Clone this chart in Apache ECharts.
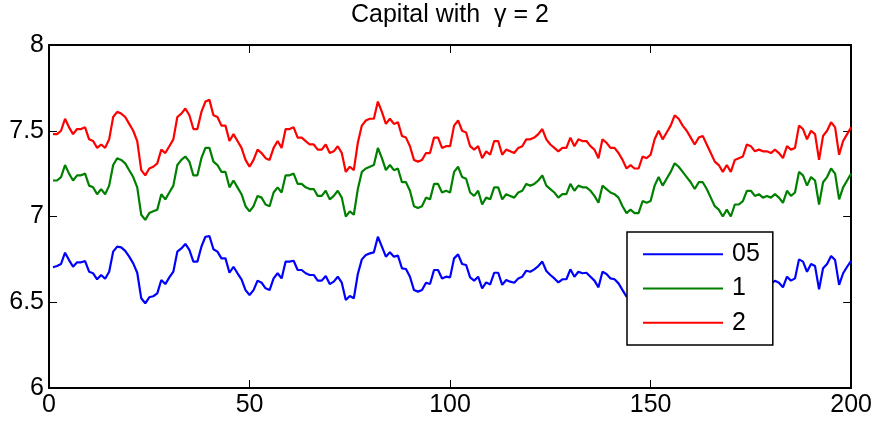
<!DOCTYPE html>
<html>
<head>
<meta charset="utf-8">
<style>
  html, body { margin: 0; padding: 0; background: #fff; }
  #chart { width: 875px; height: 422px; }
</style>
<script src="https://cdn.jsdelivr.net/npm/echarts@6/dist/echarts.min.js"></script>
</head>
<body>
<div id="chart"></div>
<script>
// Capital paths over 200 periods, one per parameter setting
const seriesNames = ['05', '1', '2'];
const seriesColors = ['#0000ff', '#008000', '#ff0000'];

const capital05 = [
  6.704,6.711,6.723,6.789,6.746,6.707,6.733,6.733,6.740,6.678,
  6.669,6.634,6.659,6.637,6.678,6.795,6.824,6.820,6.800,6.766,
  6.727,6.672,6.523,6.494,6.529,6.535,6.552,6.630,6.606,6.645,
  6.678,6.795,6.814,6.840,6.805,6.737,6.737,6.824,6.882,6.886,
  6.809,6.795,6.756,6.756,6.672,6.707,6.669,6.634,6.571,6.542,
  6.571,6.626,6.614,6.581,6.571,6.639,6.669,6.639,6.737,6.737,
  6.742,6.688,6.688,6.669,6.659,6.659,6.626,6.626,6.653,6.606,
  6.620,6.649,6.614,6.513,6.536,6.523,6.665,6.750,6.776,6.785,
  6.791,6.882,6.824,6.766,6.791,6.766,6.772,6.698,6.694,6.649,
  6.571,6.562,6.571,6.614,6.606,6.688,6.688,6.639,6.649,6.645,
  6.756,6.779,6.723,6.717,6.645,6.626,6.649,6.581,6.616,6.604,
  6.672,6.672,6.601,6.630,6.620,6.614,6.639,6.649,6.684,6.678,
  6.692,6.711,6.737,6.682,6.659,6.639,6.616,6.634,6.634,6.692,
  6.649,6.678,6.669,6.672,6.649,6.626,6.587,6.678,6.665,6.639,
  6.634,6.610,6.571,6.533,6.547,6.526,6.532,6.593,6.583,6.597,
  6.683,6.724,6.679,6.719,6.755,6.804,6.785,6.755,6.724,6.695,
  6.656,6.695,6.700,6.656,6.610,6.568,6.551,6.511,6.551,6.514,
  6.574,6.580,6.595,6.652,6.647,6.623,6.628,6.616,6.623,6.610,
  6.625,6.614,6.587,6.649,6.626,6.639,6.750,6.737,6.678,6.723,
  6.711,6.575,6.698,6.723,6.770,6.746,6.601,6.669,6.707,6.742
];

const capital1 = [
  7.21,7.21,7.23,7.30,7.25,7.21,7.24,7.24,7.25,7.18,
  7.17,7.13,7.16,7.13,7.18,7.30,7.34,7.33,7.31,7.27,
  7.23,7.17,7.01,6.98,7.02,7.03,7.04,7.13,7.10,7.14,
  7.18,7.30,7.33,7.35,7.32,7.24,7.24,7.34,7.40,7.40,
  7.32,7.30,7.26,7.26,7.17,7.21,7.17,7.13,7.06,7.03,
  7.06,7.12,7.11,7.07,7.06,7.14,7.17,7.14,7.24,7.24,
  7.25,7.19,7.19,7.17,7.16,7.16,7.12,7.12,7.15,7.10,
  7.12,7.15,7.11,7.00,7.03,7.01,7.16,7.26,7.28,7.29,
  7.30,7.40,7.34,7.27,7.30,7.27,7.28,7.20,7.20,7.15,
  7.06,7.05,7.06,7.11,7.10,7.19,7.19,7.14,7.15,7.14,
  7.26,7.29,7.23,7.22,7.14,7.12,7.15,7.07,7.11,7.10,
  7.17,7.17,7.10,7.13,7.12,7.11,7.14,7.15,7.19,7.18,
  7.19,7.21,7.24,7.18,7.16,7.14,7.11,7.13,7.13,7.19,
  7.15,7.18,7.17,7.17,7.15,7.12,7.08,7.18,7.16,7.14,
  7.13,7.11,7.06,7.02,7.04,7.02,7.02,7.09,7.08,7.09,
  7.18,7.23,7.18,7.22,7.26,7.31,7.29,7.26,7.23,7.20,
  7.16,7.20,7.20,7.16,7.11,7.06,7.04,7.00,7.04,7.00,
  7.07,7.07,7.09,7.15,7.15,7.12,7.13,7.11,7.12,7.11,
  7.13,7.11,7.08,7.15,7.12,7.14,7.26,7.24,7.18,7.23,
  7.21,7.07,7.20,7.23,7.28,7.25,7.10,7.17,7.21,7.25
];

const capital2 = [
  7.48,7.48,7.50,7.57,7.52,7.48,7.51,7.51,7.52,7.45,
  7.44,7.40,7.42,7.40,7.45,7.58,7.61,7.60,7.58,7.54,
  7.50,7.44,7.27,7.24,7.28,7.29,7.31,7.39,7.37,7.41,
  7.45,7.58,7.60,7.63,7.59,7.51,7.51,7.61,7.67,7.68,
  7.59,7.58,7.53,7.53,7.44,7.48,7.44,7.40,7.33,7.29,
  7.33,7.39,7.37,7.34,7.33,7.40,7.44,7.40,7.51,7.51,
  7.52,7.46,7.46,7.44,7.42,7.42,7.39,7.39,7.42,7.37,
  7.38,7.41,7.37,7.26,7.29,7.27,7.43,7.53,7.56,7.57,
  7.57,7.67,7.61,7.54,7.57,7.54,7.55,7.47,7.46,7.41,
  7.33,7.32,7.33,7.37,7.37,7.46,7.46,7.40,7.41,7.41,
  7.53,7.56,7.50,7.49,7.41,7.39,7.41,7.34,7.38,7.36,
  7.44,7.44,7.36,7.39,7.38,7.37,7.40,7.41,7.45,7.45,
  7.46,7.48,7.51,7.45,7.42,7.40,7.38,7.40,7.40,7.46,
  7.41,7.45,7.44,7.44,7.41,7.39,7.34,7.45,7.43,7.40,
  7.40,7.37,7.33,7.28,7.30,7.28,7.28,7.35,7.34,7.36,
  7.45,7.50,7.45,7.49,7.53,7.59,7.57,7.53,7.50,7.46,
  7.42,7.46,7.47,7.42,7.37,7.32,7.30,7.26,7.30,7.26,
  7.33,7.34,7.35,7.42,7.41,7.38,7.39,7.38,7.38,7.37,
  7.39,7.37,7.34,7.41,7.39,7.40,7.53,7.51,7.45,7.50,
  7.48,7.33,7.47,7.50,7.55,7.52,7.36,7.44,7.48,7.52
];

const xRange = [0, 200];
const xStep = 50;
const yRange = [6, 8];
const yStep = 0.5;

const FONT = '"Liberation Sans", Arial, Helvetica, sans-serif';

// periods run 1..N
const toPairs = arr => arr.map((v, i) => [i + 1, v]);
const allSeries = [capital05, capital1, capital2];

const boxAxis = {
  axisLine: { show: true, onZero: false, lineStyle: { color: '#000', width: 2 } },
  axisTick: { show: true, inside: true, length: 8, lineStyle: { color: '#000', width: 1 } },
  splitLine: { show: false }
};

const chart = echarts.init(document.getElementById('chart'), null, { renderer: 'canvas' });

chart.setOption({
  animation: false,
  backgroundColor: '#fff',
  textStyle: { fontFamily: FONT },
  title: {
    text: 'Capital with  \u03b3 = 2',
    left: 450,
    top: 3,
    padding: 0,
    textAlign: 'center',
    textStyle: { fontFamily: FONT, fontSize: 25, fontWeight: 'normal', color: '#000', lineHeight: 25 }
  },
  grid: { left: 49, right: 23, top: 45, bottom: 34 },
  xAxis: [
    Object.assign({
      type: 'value', min: xRange[0], max: xRange[1], interval: xStep, position: 'bottom',
      axisLabel: { fontFamily: FONT, fontSize: 25, color: '#000', margin: 5 }
    }, boxAxis),
    Object.assign({
      type: 'value', min: xRange[0], max: xRange[1], interval: xStep, position: 'top',
      axisLabel: { show: false }
    }, boxAxis)
  ],
  yAxis: [
    Object.assign({
      type: 'value', min: yRange[0], max: yRange[1], interval: yStep, position: 'left',
      axisLabel: { fontFamily: FONT, fontSize: 25, color: '#000', margin: 5 }
    }, boxAxis),
    Object.assign({
      type: 'value', min: yRange[0], max: yRange[1], interval: yStep, position: 'right',
      axisLabel: { show: false }
    }, boxAxis)
  ],
  legend: {
    orient: 'vertical',
    left: 627,
    top: 232,
    data: seriesNames,
    icon: 'rect',
    itemWidth: 80,
    itemHeight: 2,
    itemGap: 0,
    padding: [5, 13, 5, 16],
    borderColor: '#000',
    borderWidth: 1.5,
    backgroundColor: '#fff',
    selectedMode: false,
    textStyle: { fontFamily: FONT, fontSize: 25, color: '#000', lineHeight: 34.3, padding: [0, 0, 0, 4] }
  },
  series: allSeries.map((arr, k) => ({
    name: seriesNames[k],
    type: 'line',
    xAxisIndex: 0,
    yAxisIndex: 0,
    data: toPairs(arr),
    showSymbol: false,
    symbol: 'none',
    color: seriesColors[k],
    lineStyle: { color: seriesColors[k], width: 2.2 },
    z: 2 + k
  }))
});
</script>
</body>
</html>
